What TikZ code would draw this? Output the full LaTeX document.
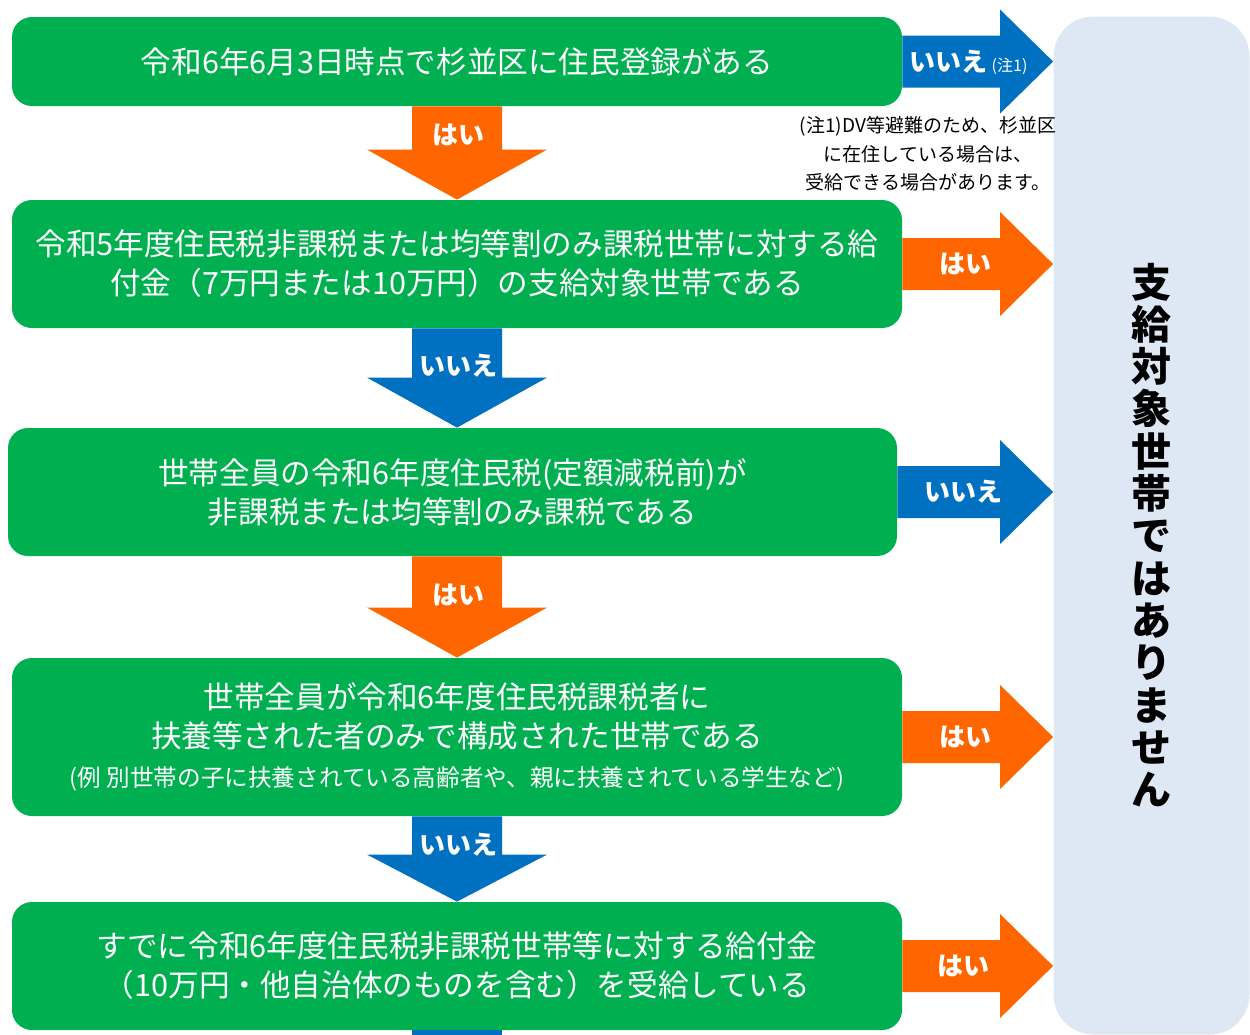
\documentclass[tikz,border=0pt]{standalone}
\usepackage{fontspec}
\setmainfont{Noto Sans CJK JP}
\usetikzlibrary{calc}
\definecolor{boxgreen}{HTML}{00B050}
\definecolor{yesorange}{HTML}{FF6600}
\definecolor{noblue}{HTML}{0070C0}
\definecolor{panelblue}{HTML}{DEE8F5}
\tikzset{%
    qbox/.style={%
        rectangle, rounded corners=10pt, fill=boxgreen, text=white,
        minimum width=445pt, inner sep=0pt, align=center,
        font=\fontsize{15.3}{19.5}\selectfont
    },
    yesarrow/.style={fill=yesorange},
    noarrow/.style={fill=noblue},
    arrowlabel/.style={%
        text=white, inner sep=0pt, font=\fontsize{13}{13}\selectfont\bfseries
    },
    panel/.style={%
        rectangle, rounded corners=20pt, fill=panelblue,
        minimum width=98pt, minimum height=509pt, inner sep=0pt
    },
    note/.style={%
        align=center, inner sep=0pt, font=\fontsize{9.5}{14.2}\selectfont
    }
}
\begin{document}
\begin{tikzpicture}[x=0.5pt, y=-0.5pt]
    \path[use as bounding box] (0,0) rectangle (1250,1035);
    \coordinate (spine) at (457,0);

    % questions
    \node[qbox, minimum height=44.5pt] (b1) at (457,61.5)
        {令和6年6月3日時点で杉並区に住民登録がある};
    \node[qbox, minimum height=64pt] (b2) at (457,264)
        {令和5年度住民税非課税または均等割のみ課税世帯に対する給\\付金（7万円または10万円）の支給対象世帯である};
    \node[qbox, minimum width=444.5pt, minimum height=64pt] (b3) at (452.5,492)
        {世帯全員の令和6年度住民税(定額減税前)が\\非課税または均等割のみ課税である};
    \node[qbox, minimum height=79pt] (b4) at (457,737)
        {世帯全員が令和6年度住民税課税者に\\扶養等された者のみで構成された世帯である\\{\fontsize{11.8}{14}\selectfont (例 別世帯の子に扶養されている高齢者や、親に扶養されている学生など)}};
    \node[qbox, minimum height=64pt] (b5) at (457,966)
        {すでに令和6年度住民税非課税世帯等に対する給付金\\（10万円・他自治体のものを含む）を受給している};

    \node[panel] (panel) at (1151.5,525.5) {};
    \node[text=black, align=center, inner sep=0pt,
        font=\fontsize{20}{21.15}\selectfont\bfseries] (verdict) at (1151,535)
        {支\\給\\対\\象\\世\\帯\\で\\は\\あ\\り\\ま\\せ\\ん};

    % down arrows
    \fill[yesarrow] ($(spine |- b1.south)+(-45,0)$) -- ($(spine |- b2.north)+(-45,-50)$)
        -- ++(-45,0) -- (spine |- b2.north) -- ++(90,-50) -- ++(-45,0)
        -- ($(spine |- b1.south)+(45,0)$) -- cycle;
    \fill[noarrow] ($(spine |- b2.south)+(-45,0)$) -- ($(spine |- b3.north)+(-45,-50)$)
        -- ++(-45,0) -- (spine |- b3.north) -- ++(90,-50) -- ++(-45,0)
        -- ($(spine |- b2.south)+(45,0)$) -- cycle;
    \fill[yesarrow] ($(spine |- b3.south)+(-45,0)$) -- ($(spine |- b4.north)+(-45,-50)$)
        -- ++(-45,0) -- (spine |- b4.north) -- ++(90,-50) -- ++(-45,0)
        -- ($(spine |- b3.south)+(45,0)$) -- cycle;
    \fill[noarrow] ($(spine |- b4.south)+(-45,0)$) -- ($(spine |- b5.north)+(-45,-47)$)
        -- ++(-45,0) -- (spine |- b5.north) -- ++(90,-47) -- ++(-45,0)
        -- ($(spine |- b4.south)+(45,0)$) -- cycle;
    \fill[noarrow] ($(spine |- b5.south)+(-45,0)$) rectangle ++(90,10);

    \node[arrowlabel] (d1) at ($(spine |- b1.south)+(1,29)$) {はい};
    \node[arrowlabel] (d2) at ($(spine |- b2.south)+(1,37)$) {いいえ};
    \node[arrowlabel] (d3) at ($(spine |- b3.south)+(1,39)$) {はい};
    \node[arrowlabel] (d4) at ($(spine |- b4.south)+(1,28)$) {いいえ};

    % right arrows
    \fill[noarrow] ($(b1.east)+(0,-26)$) -- ($(b1.east -| panel.west)+(-53,-26)$)
        -- ++(0,-26) -- (b1.east -| panel.west) -- ++(-53,52) -- ++(0,-26)
        -- ($(b1.east)+(0,26)$) -- cycle;
    \fill[yesarrow] ($(b2.east)+(0,-26)$) -- ($(b2.east -| panel.west)+(-53,-26)$)
        -- ++(0,-26) -- (b2.east -| panel.west) -- ++(-53,52) -- ++(0,-26)
        -- ($(b2.east)+(0,26)$) -- cycle;
    \fill[noarrow] ($(b3.east)+(0,-26)$) -- ($(b3.east -| panel.west)+(-53,-26)$)
        -- ++(0,-26) -- (b3.east -| panel.west) -- ++(-53,52) -- ++(0,-26)
        -- ($(b3.east)+(0,26)$) -- cycle;
    \fill[yesarrow] ($(b4.east)+(0,-26)$) -- ($(b4.east -| panel.west)+(-53,-26)$)
        -- ++(0,-26) -- (b4.east -| panel.west) -- ++(-53,52) -- ++(0,-26)
        -- ($(b4.east)+(0,26)$) -- cycle;
    \fill[yesarrow] ($(b5.east)+(0,-26)$) -- ($(b5.east -| panel.west)+(-53,-26)$)
        -- ++(0,-26) -- (b5.east -| panel.west) -- ++(-53,52) -- ++(0,-26)
        -- ($(b5.east)+(0,26)$) -- cycle;

    \node[arrowlabel] (r1) at ($(b1.east)+(66,1)$)
        {いいえ\,{\fontsize{8}{8}\selectfont\mdseries (注1)}};
    \node[arrowlabel] (r2) at ($(b2.east)+(63,0)$) {はい};
    \node[arrowlabel] (r3) at ($(b3.east)+(66,0)$) {いいえ};
    \node[arrowlabel] (r4) at ($(b4.east)+(63,0)$) {はい};
    \node[arrowlabel] (r5) at ($(b5.east)+(61,0)$) {はい};

    \node[note] (note1) at (928,154)
        {(注1)DV等避難のため、杉並区\\に在住している場合は、\\受給できる場合があります。};
\end{tikzpicture}
\end{document}
